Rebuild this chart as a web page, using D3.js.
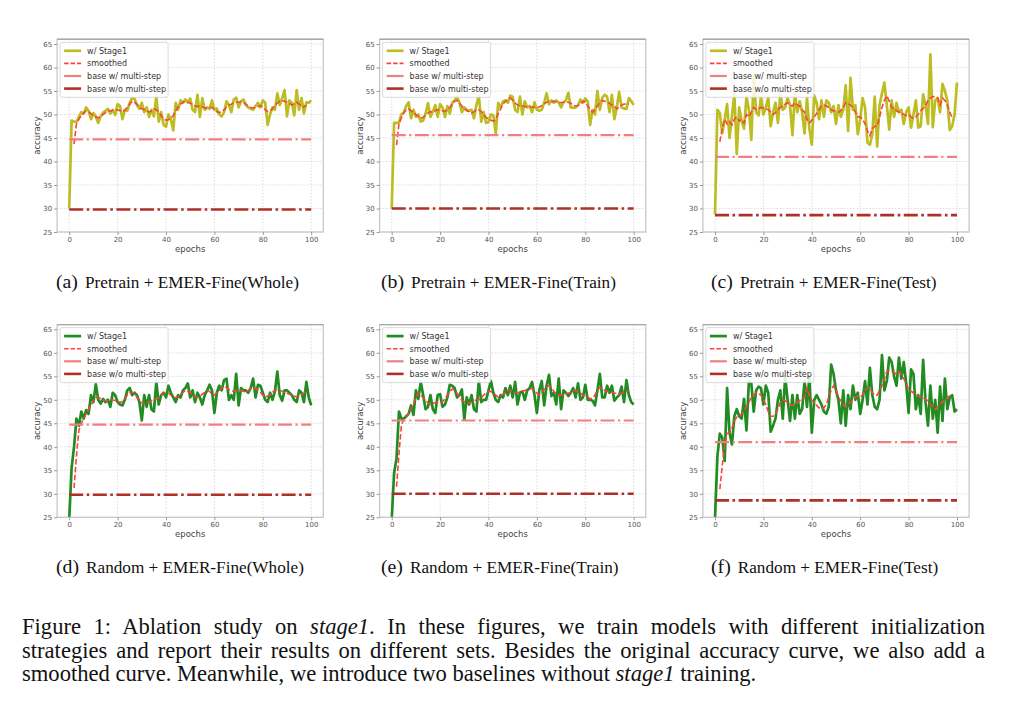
<!DOCTYPE html>
<html><head><meta charset="utf-8">
<script src="https://cdn.jsdelivr.net/npm/d3@7"></script>
<style>body{margin:0;background:#fff;} svg{display:block}</style>
</head><body>
<svg id="fig" width="1024" height="717"></svg>
<script>
// ---------------- data ----------------
const epochs = d3.range(0, 101);
const smoothEpochs = d3.range(2, 99);
const xTicks = [0, 20, 40, 60, 80, 100];
const yTicks = [25, 30, 35, 40, 45, 50, 55, 60, 65];
const panelLetters = ["(a)", "(b)", "(c)", "(d)", "(e)", "(f)"];
const panelTitles = ["Pretrain + EMER-Fine(Whole)", "Pretrain + EMER-Fine(Train)", "Pretrain + EMER-Fine(Test)",
                     "Random + EMER-Fine(Whole)", "Random + EMER-Fine(Train)", "Random + EMER-Fine(Test)"];
const legendLabels = ["w/ Stage1", "smoothed", "base w/ multi-step", "base w/o multi-step"];
const baseMulti = [44.7, 45.6, 41.0, 44.7, 45.6, 41.0];
const baseNoMulti = [29.8, 30.0, 28.6, 29.8, 30.0, 28.6];

const accA = [30,48.7,48.5,48.4,49.5,50.5,50.2,51.5,50.8,49.0,50.3,49.5,48.2,49.6,50.4,50.8,51.2,50.2,51.0,49.9,
52.2,51.8,49.0,51.0,50.8,52.5,53.5,53.3,52.0,51.2,52.5,50.5,51.5,49.5,51.0,49.6,53.8,48.5,50.5,47.8,
47.4,50.0,49.0,46.6,52.5,51.0,53.0,52.5,53.2,52.6,53.4,51.0,50.5,54.2,49.5,53.5,51.0,51.5,51.2,53.0,
51.0,51.3,50.0,49.6,50.5,52.8,52.0,50.5,53.2,53.6,51.5,52.8,53.2,52.0,51.5,51.2,51.0,51.8,52.5,51.5,
53.0,52.5,47.8,50.0,51.5,51.0,54.5,52.0,53.5,55.2,49.6,53.0,52.5,49.8,55.2,51.0,53.5,50.2,52.6,52.5,53.0];
const smoothA = [43.7,48.0,49.0,49.8,50.3,50.8,50.6,50.2,49.8,49.5,49.3,49.6,50.0,50.4,50.8,50.7,50.9,51.0,51.0,
50.8,50.6,50.9,51.5,52.2,52.8,52.6,52.2,51.6,51.2,51.0,50.8,50.5,50.8,51.2,51.0,50.5,49.8,49.0,48.8,
48.9,49.2,49.8,50.8,51.6,52.2,52.6,52.8,52.6,52.4,52.2,51.8,51.7,51.8,51.6,51.4,51.4,51.5,51.5,51.0,
50.6,50.4,50.6,51.0,51.6,52.0,52.2,52.5,52.6,52.6,52.7,52.6,52.2,51.8,51.5,51.4,51.5,51.7,51.9,51.6,
51.0,50.6,50.8,51.2,52.0,52.4,52.8,53.0,52.8,52.6,52.4,52.0,52.3,52.6,52.2,51.8,51.6,52.0];

const accB = [30,48.2,48.2,48.3,50.0,50.5,51.8,52.6,49.2,51.0,49.5,50.0,48.5,48.7,50.2,52.4,49.5,50.6,52.0,49.5,
52.2,51.5,49.5,51.8,50.2,52.5,53.0,53.8,52.5,50.5,51.5,51.0,50.8,51.0,49.2,52.0,54.0,48.5,50.5,48.2,
48.4,50.0,49.8,46.0,52.5,51.5,52.8,53.0,52.5,54.0,53.8,51.0,50.5,53.8,50.0,52.8,51.5,51.8,50.5,52.6,
51.0,50.8,51.0,52.5,54.5,52.2,53.0,52.5,53.0,52.5,51.5,52.6,53.0,54.6,51.5,51.4,51.5,52.0,53.2,52.5,
53.4,52.8,47.8,51.0,50.0,55.0,51.0,53.5,54.2,53.8,50.5,54.2,49.0,51.5,54.8,51.5,51.3,51.2,53.5,52.8,52.0];
const smoothB = [43.5,48.0,49.3,50.3,51.0,51.2,50.8,50.4,50.0,49.5,49.2,49.4,49.9,50.3,50.6,50.5,50.8,51.0,51.0,
50.8,50.7,51.0,51.5,52.2,52.8,53.0,52.4,51.8,51.2,50.8,50.6,50.3,50.6,51.0,51.0,50.6,50.0,49.4,49.0,
48.8,48.6,49.0,50.2,51.2,52.2,52.8,53.3,53.5,53.0,52.4,52.0,51.8,51.8,51.7,51.6,51.6,51.6,51.5,51.4,
51.6,51.9,52.3,52.6,52.8,52.8,52.8,52.7,52.6,52.5,52.6,52.7,52.6,52.4,52.0,51.8,51.9,52.3,52.8,52.7,
51.8,51.0,50.5,51.0,51.8,52.6,53.0,52.8,52.6,52.4,52.0,51.8,51.2,51.6,52.0,52.2,52.2,52.3];

const accC = [28.7,51.0,50.3,46.0,49.0,52.2,45.0,49.5,54.5,41.6,51.5,48.5,47.0,53.8,51.0,44.6,58.3,50.5,49.8,53.8,
50.0,51.5,53.6,47.5,50.5,52.5,48.2,54.5,51.0,51.5,53.5,52.0,45.6,54.5,50.5,52.8,50.5,46.0,53.6,47.0,
43.6,54.0,52.5,49.0,53.0,49.5,53.0,52.5,50.5,51.8,48.0,52.0,49.5,51.0,56.2,46.5,57.8,51.0,52.0,45.8,
49.0,53.5,51.5,44.0,43.6,45.8,53.8,43.2,52.0,54.5,56.8,52.0,46.8,53.0,49.5,52.5,50.5,51.0,48.0,50.5,
51.5,47.2,50.0,53.0,47.2,47.5,54.3,52.0,48.0,62.8,47.3,53.0,53.5,50.5,56.5,55.0,53.0,46.7,47.5,50.0,56.8];
const smoothC = [44.2,47.0,49.0,48.0,48.5,47.8,49.0,49.5,48.6,49.0,48.2,50.0,49.5,50.5,51.5,51.0,51.2,51.5,51.4,
51.2,51.0,50.5,50.0,50.4,51.0,51.5,51.8,52.2,52.5,52.0,51.8,52.5,52.0,51.8,51.0,50.5,49.0,48.2,48.8,
49.5,50.2,51.0,51.8,52.0,51.8,51.5,51.0,50.8,50.6,50.5,50.8,51.5,52.5,52.3,52.0,51.5,50.5,49.5,49.5,
49.0,48.0,46.5,45.5,47.0,47.5,47.5,49.5,51.5,53.0,54.0,52.8,51.5,51.2,50.8,50.5,50.5,50.0,49.8,50.0,
49.5,49.2,49.5,50.0,50.8,51.3,51.8,53.0,53.5,53.8,53.8,53.5,52.0,53.5,53.0,52.0,50.5,49.3];

const accD = [24.5,35.5,40.0,46.0,44.5,47.5,46.0,47.8,47.0,51.0,49.5,53.3,50.0,49.2,50.2,49.5,50.0,48.5,51.5,51.0,
49.5,49.0,48.8,50.0,52.0,52.5,51.0,51.5,51.0,49.5,45.6,51.0,48.5,51.0,48.0,47.5,53.8,49.0,51.0,51.5,
50.5,53.0,51.5,50.5,49.5,51.0,50.5,52.0,52.5,53.5,50.5,52.0,49.5,51.5,50.5,49.0,51.0,52.0,53.2,52.0,
47.2,51.5,53.0,52.0,54.2,54.5,50.0,51.0,50.0,55.5,48.8,52.5,52.0,52.0,51.5,52.5,54.5,50.5,53.2,53.0,
51.5,50.0,49.5,51.5,50.0,51.8,56.0,51.0,49.8,52.0,52.0,51.5,51.0,50.0,49.5,52.0,51.5,49.5,53.8,50.5,48.8];
const smoothD = [31.2,38.0,43.5,45.0,46.0,47.0,48.0,48.8,49.8,50.5,50.5,50.3,50.0,49.8,49.8,50.0,50.0,49.8,49.6,
49.5,49.6,50.3,51.0,51.5,51.6,51.4,50.5,49.8,49.3,49.2,49.2,49.6,49.8,50.0,50.2,50.4,51.0,51.5,51.5,
51.4,51.0,50.6,50.5,50.6,51.0,51.6,52.0,51.8,51.5,51.0,50.6,50.5,50.8,51.2,51.6,52.0,51.8,51.2,51.0,
51.5,52.0,52.6,52.8,52.6,52.2,52.0,51.8,52.0,52.0,52.0,51.8,51.6,52.0,52.4,52.6,52.4,52.0,51.6,51.0,
50.6,50.8,51.0,51.6,52.0,52.2,52.0,51.8,51.6,51.4,51.2,51.0,50.8,50.6,50.8,51.0,51.4,51.8];

const accE = [24.5,34.5,37.5,47.5,46.0,46.0,46.5,47.0,48.8,46.8,52.0,50.2,53.8,51.0,48.0,48.5,51.0,48.0,47.2,51.0,
51.2,48.5,49.0,50.5,53.2,53.0,52.5,50.5,51.0,52.2,45.8,50.5,49.0,51.0,48.0,47.5,54.0,49.5,50.0,50.0,
52.0,54.0,51.5,50.0,49.5,51.0,50.5,52.5,51.0,53.0,50.5,53.8,49.0,51.5,51.8,50.0,52.0,52.5,53.8,51.0,
47.2,52.0,54.0,48.8,53.0,55.3,50.8,51.5,49.0,54.5,48.0,52.0,51.5,50.8,51.5,52.5,50.5,53.5,50.0,50.5,
53.2,50.0,50.0,49.8,48.8,52.0,55.5,50.5,50.5,53.0,51.5,53.0,49.8,50.5,51.0,52.8,49.5,54.2,51.0,49.5,49.0];
const smoothE = [31.5,38.5,44.5,46.0,46.4,47.0,48.0,49.2,50.5,51.5,51.0,50.4,49.8,49.4,49.0,49.2,49.4,49.5,49.3,
49.6,50.2,51.0,51.8,52.3,52.0,51.4,50.6,50.0,49.6,49.4,49.3,49.5,49.8,50.0,50.0,50.4,51.0,51.5,51.8,
51.8,51.4,51.0,50.6,50.8,51.2,51.6,52.0,52.0,51.8,51.6,51.5,51.6,51.8,52.0,52.2,52.3,52.4,52.0,51.4,
51.0,51.5,52.2,52.8,53.0,52.5,51.8,51.2,51.0,51.0,51.0,51.2,51.4,51.6,51.8,52.0,51.8,51.4,51.0,50.8,
50.6,50.2,50.4,51.0,52.0,52.6,52.4,52.0,51.8,51.6,51.6,51.4,51.4,51.2,51.4,51.6,51.8,52.0];

const accF = [24.8,38.0,42.8,42.0,37.0,52.5,43.0,40.5,46.5,48.0,46.5,46.0,50.2,43.5,53.8,53.5,47.5,52.0,52.8,52.5,
49.0,53.0,51.5,43.2,44.5,46.0,50.0,52.0,46.0,55.0,50.0,45.5,51.0,46.0,51.0,47.0,48.0,54.0,48.5,55.0,
43.0,50.0,51.0,50.0,49.0,47.5,47.0,48.5,57.5,55.5,52.0,50.0,45.0,52.0,44.5,51.0,48.0,53.0,50.0,51.5,
47.0,50.0,54.0,49.0,56.8,51.0,48.5,48.0,50.0,59.5,52.0,54.0,59.0,58.0,55.0,53.0,59.0,54.5,58.0,53.5,
47.2,56.5,55.5,48.0,51.0,47.0,58.5,49.5,44.5,53.0,46.0,50.0,43.0,52.8,45.5,54.5,48.0,50.5,51.0,47.5,48.0];
const smoothF = [31.0,36.0,40.5,42.8,43.0,44.0,45.5,46.3,46.5,47.0,47.8,48.5,49.5,50.5,51.0,51.5,51.3,51.0,50.0,
49.0,47.5,46.5,46.5,47.0,48.0,49.5,50.0,49.8,49.5,49.0,48.8,49.0,49.5,49.8,50.2,50.5,52.5,51.0,49.8,
49.5,48.8,48.3,48.0,48.3,49.0,50.5,52.0,53.0,52.0,50.5,49.8,49.0,48.5,49.0,49.5,50.0,50.5,50.8,50.5,
51.0,52.0,52.5,52.5,51.5,51.0,51.0,52.0,53.0,54.5,56.0,56.2,56.0,55.8,55.5,56.0,55.5,54.5,53.5,52.0,
51.8,51.5,51.0,50.8,50.5,50.5,50.0,49.8,49.0,48.5,48.0,48.5,49.0,49.5,50.0,50.5,50.8,51.0];

const accSeries = [accA, accB, accC, accD, accE, accF];
const smoothSeries = [smoothA, smoothB, smoothC, smoothD, smoothE, smoothF];
const mainColors = ["#bcbd22", "#bcbd22", "#bcbd22", "#228b22", "#228b22", "#228b22"];

// ---------------- layout ----------------
const svg = d3.select("#fig");
const colX0 = [69.2, 391.7, 715.0];   // pixel of epoch 0
const subCapX = [56, 381, 711];
const pxPerEpoch = 2.42;
const rowBottom = [232.0, 517.3];     // pixel of accuracy 25
const pxPerUnit = 4.70;
const chartFont = "DejaVu Sans, sans-serif";
const serif = "Liberation Serif, Times New Roman, serif";

const styles = {
  smooth: { color: "#ff4040", width: 1.6, dash: "5.5,2.4" },
  multi: { color: "#f08080", width: 2.2, dash: "14,3.5,2.2,3.5" },
  nomulti: { color: "#b03028", width: 2.6, dash: "14,3.5,2.6,3.5" }
};

for (let p = 0; p < 6; p++) {
  const col = p % 3, row = Math.floor(p / 3);
  const x = d3.scaleLinear().domain([-5, 105]).range([colX0[col] - 5 * pxPerEpoch, colX0[col] + 105 * pxPerEpoch]);
  const y = d3.scaleLinear().domain([25, 66]).range([rowBottom[row], rowBottom[row] - 41 * pxPerUnit]);
  const [L, R] = x.range(); const [B, T] = y.range();
  const g = svg.append("g");

  // grid
  g.append("g").selectAll("line").data(xTicks).join("line")
    .attr("x1", d => x(d)).attr("x2", d => x(d)).attr("y1", T).attr("y2", B)
    .attr("stroke", "#d6d6d6").attr("stroke-width", 0.8).attr("stroke-dasharray", "1.6,1.6");
  g.append("g").selectAll("line").data(yTicks).join("line")
    .attr("y1", d => y(d)).attr("y2", d => y(d)).attr("x1", L).attr("x2", R)
    .attr("stroke", "#d6d6d6").attr("stroke-width", 0.8).attr("stroke-dasharray", "1.6,1.6");

  const clipId = "clip" + p;
  svg.append("clipPath").attr("id", clipId).append("rect")
    .attr("x", L).attr("y", T).attr("width", R - L).attr("height", B - T);
  const plot = g.append("g").attr("clip-path", `url(#${clipId})`);

  const line = d3.line().x(d => x(d[0])).y(d => y(d[1]));
  plot.append("path").datum(epochs.map((e, i) => [e, accSeries[p][i]]))
    .attr("d", line).attr("fill", "none").attr("stroke", mainColors[p])
    .attr("stroke-width", 2.7).attr("stroke-linejoin", "round");
  plot.append("path").datum(smoothEpochs.map((e, i) => [e, smoothSeries[p][i]]))
    .attr("d", line).attr("fill", "none").attr("stroke", styles.smooth.color)
    .attr("stroke-width", styles.smooth.width).attr("stroke-dasharray", styles.smooth.dash);
  plot.append("path").datum([[0, baseMulti[p]], [100, baseMulti[p]]])
    .attr("d", line).attr("fill", "none").attr("stroke", styles.multi.color)
    .attr("stroke-width", styles.multi.width).attr("stroke-dasharray", styles.multi.dash);
  plot.append("path").datum([[0, baseNoMulti[p]], [100, baseNoMulti[p]]])
    .attr("d", line).attr("fill", "none").attr("stroke", styles.nomulti.color)
    .attr("stroke-width", styles.nomulti.width).attr("stroke-dasharray", styles.nomulti.dash);

  // spines
  g.append("rect").attr("x", L).attr("y", T).attr("width", R - L).attr("height", B - T)
    .attr("fill", "none").attr("stroke", "#c4c4c4").attr("stroke-width", 1.2);
  g.append("line").attr("x1", L).attr("x2", R).attr("y1", T).attr("y2", T)
    .attr("stroke", "#a8a8a8").attr("stroke-width", 1.4);

  // axes
  const ax = g.append("g").attr("transform", `translate(0,${B})`)
    .call(d3.axisBottom(x).tickValues(xTicks).tickSize(3).tickPadding(2).tickSizeOuter(0));
  const ay = g.append("g").attr("transform", `translate(${L},0)`)
    .call(d3.axisLeft(y).tickValues(yTicks).tickSize(3).tickPadding(2).tickSizeOuter(0));
  [ax, ay].forEach(a => {
    a.select(".domain").remove();
    a.selectAll("line").attr("stroke", "#999");
    a.selectAll("text").attr("fill", "#555").style("font-family", chartFont).style("font-size", "7px");
  });

  // axis labels
  g.append("text").attr("x", (L + R) / 2).attr("y", B + 20).attr("text-anchor", "middle")
    .style("font-family", chartFont).style("font-size", "8.5px").attr("fill", "#444").text("epochs");
  g.append("text").attr("transform", `translate(${L - 17},${(T + B) / 2}) rotate(-90)`)
    .attr("text-anchor", "middle")
    .style("font-family", chartFont).style("font-size", "8.5px").attr("fill", "#444").text("accuracy");

  // legend
  const lg = g.append("g").attr("transform", `translate(${L + 3},${T + 3})`);
  lg.append("rect").attr("width", 108).attr("height", 55).attr("rx", 2)
    .attr("fill", "#fff").attr("fill-opacity", 0.85).attr("stroke", "#d0d0d0").attr("stroke-width", 0.8);
  const legStyles = [
    { color: mainColors[p], width: 2.7 },
    styles.smooth, styles.multi, styles.nomulti
  ];
  legendLabels.forEach((lab, i) => {
    const yy = 8.5 + i * 12.6;
    lg.append("line").attr("x1", 4).attr("x2", 21).attr("y1", yy).attr("y2", yy)
      .attr("stroke", legStyles[i].color).attr("stroke-width", legStyles[i].width)
      .attr("stroke-dasharray", i === 1 ? "4.5,2" : null);
    lg.append("text").attr("x", 27).attr("y", yy + 3).text(lab)
      .style("font-family", chartFont).style("font-size", "8px").attr("fill", "#333");
  });

  // sub caption
  const cy = row === 0 ? 288 : 573;
  const st = svg.append("text").attr("x", subCapX[col]).attr("y", cy)
    .style("font-family", serif).attr("fill", "#111");
  st.append("tspan").style("font-size", "19.8px").text(panelLetters[p]);
  st.append("tspan").attr("dx", 7).style("font-size", "17.2px").text(panelTitles[p]);
}

// ---------------- figure caption ----------------
const captionLines = [
  [["Figure 1: Ablation study on ", false], ["stage1", true], [". In these figures, we train models with different initialization", false]],
  [["strategies and report their results on different sets. Besides the original accuracy curve, we also add a", false]],
  [["smoothed curve. Meanwhile, we introduce two baselines without ", false], ["stage1", true], [" training.", false]]
];
const capX = 22, capRight = 985, capY0 = 634.3, capDy = 23.4;
captionLines.forEach((parts, li) => {
  const t = svg.append("text").attr("x", capX).attr("y", capY0 + li * capDy)
    .style("font-family", serif).style("font-size", "22.6px").attr("fill", "#111")
    .attr("xml:space", "preserve");
  parts.forEach(([s, it]) => t.append("tspan").style("font-style", it ? "italic" : "normal").text(s));
  if (li < 2) {
    const w = t.node().getComputedTextLength();
    const nSpaces = parts.map(d => d[0]).join("").split(" ").length - 1;
    const extra = (capRight - capX - w) / nSpaces;
    t.attr("word-spacing", extra);
  }
});
</script>
</body></html>
